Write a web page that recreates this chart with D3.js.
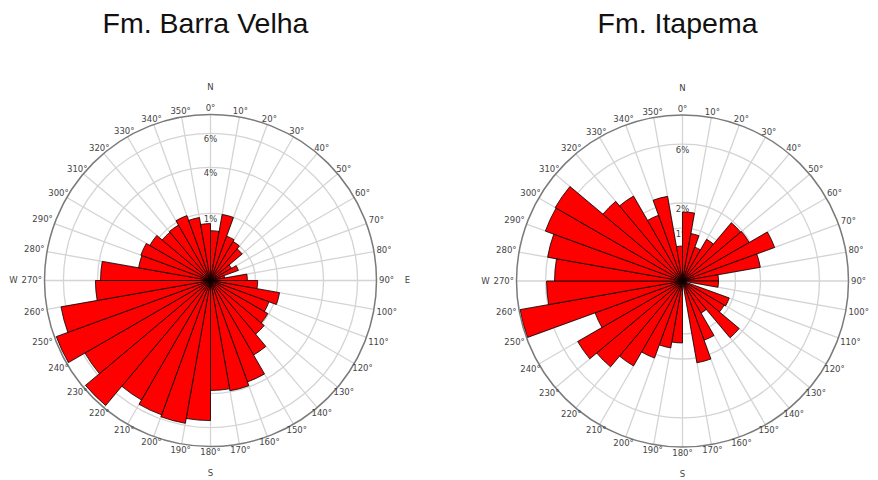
<!DOCTYPE html>
<html>
<head>
<meta charset="utf-8">
<script src="https://cdn.jsdelivr.net/npm/d3@7"></script>
<style>
  body { margin: 0; background: #fff; }
  svg { display: block; }
</style>
</head>
<body>
<svg id="chart" width="878" height="480"></svg>
<script>
// 10° direction classes, clockwise from north
const binStarts = d3.range(0, 360, 10);

// Percentage of measurements in each class
const barraVelha = [
  0.61, 1.00, 0.55, 0.50, 0.46, 0.27, 0.33, 0.16, 0.41, 0.55,
  1.20, 0.89, 0.98, 1.20, 2.24, 3.67, 3.93, 3.80,
  5.59, 5.88, 5.76, 5.47, 7.02, 5.88, 7.08, 6.30, 4.12, 3.80,
  1.39, 1.46, 1.20, 0.91, 0.93, 1.13, 0.93, 0.77
];
const itapema = [
  1.64, 0.91, 0.68, 0.91, 1.92, 1.96, 3.36, 2.07, 0.68, 0.68,
  0.06, 0.94, 0.91, 1.84, 0.70, 1.40, 2.34, 0.04,
  1.36, 1.60, 2.27, 3.36, 4.31, 4.92, 3.02, 7.93, 5.93, 5.39,
  6.00, 6.62, 6.69, 3.76, 3.36, 1.68, 2.54, 0.66
];

// Ring values and the ones that carry a label
const barraVelhaRings = [0.5, 1, 4, 6];
const barraVelhaRingLabels = [1, 4, 6];
const itapemaRings = [1, 2, 6];
const itapemaRingLabels = [1, 2, 6];

const titles = ["Fm. Barra Velha", "Fm. Itapema"];
// compass letters; the east letter of the second rose falls past the page edge
const barraVelhaCardinals = [["N", 0], ["E", 90], ["S", 180], ["W", 270]];
const itapemaCardinals = [["N", 0], ["S", 180], ["W", 270]];
const angleTicks = binStarts.map(d => d + "°");

const svg = d3.select("#chart");
const R = 166;
const rad = Math.PI / 180;
const labelFont = "DejaVu Sans, sans-serif";

function drawRose(cx, cy, title, values, rScale, rings, ringLabels, cardinals) {
  const g = svg.append("g").attr("transform", `translate(${cx},${cy})`);

  svg.append("text")
    .attr("x", cx - 5).attr("y", 33)
    .attr("text-anchor", "middle")
    .attr("font-family", "Liberation Sans, Arial, sans-serif")
    .attr("font-size", 28.5)
    .attr("fill", "#111")
    .text(title);

  // rings
  g.selectAll("circle.ring").data(rings).join("circle")
    .attr("class", "ring")
    .attr("r", d => rScale(d))
    .attr("fill", "none")
    .attr("stroke", "#d4d4d4")
    .attr("stroke-width", 1.3);

  // spokes
  g.selectAll("line.spoke").data(binStarts).join("line")
    .attr("class", "spoke")
    .attr("x1", 0).attr("y1", 0)
    .attr("x2", d => R * Math.sin(d * rad))
    .attr("y2", d => -R * Math.cos(d * rad))
    .attr("stroke", "#d4d4d4")
    .attr("stroke-width", 1.3);

  // ring labels along the north axis
  g.selectAll("text.rlab").data(ringLabels).join("text")
    .attr("class", "rlab")
    .attr("x", 0)
    .attr("y", d => -rScale(d) + 6)
    .attr("dy", "0.35em")
    .attr("text-anchor", "middle")
    .attr("font-family", labelFont)
    .attr("font-size", 8.5)
    .attr("fill", "#444")
    .text(d => d + "%");

  // bars
  const arc = d3.arc()
    .innerRadius(0)
    .outerRadius(d => rScale(d.v))
    .startAngle(d => d.a * rad)
    .endAngle(d => (d.a + 10) * rad);

  g.selectAll("path.bar")
    .data(binStarts.map((a, i) => ({ a, v: values[i] })))
    .join("path")
    .attr("class", "bar")
    .attr("d", arc)
    .attr("fill", "#ff0000")
    .attr("stroke", "#000")
    .attr("stroke-width", 0.8)
    .attr("stroke-linejoin", "miter");

  // frame
  g.append("circle")
    .attr("r", R)
    .attr("fill", "none")
    .attr("stroke", "#7a7a7a")
    .attr("stroke-width", 1.5);

  // angular tick labels, near edge resting on the frame
  const pad = 2.5, h = 7;
  angleTicks.forEach((t, i) => {
    const a = binStarts[i] * rad;
    const txt = g.append("text")
      .attr("text-anchor", "middle")
      .attr("dy", "0.35em")
      .attr("font-family", labelFont)
      .attr("font-size", 8.5)
      .attr("fill", "#444")
      .text(t);
    const w = txt.node().getComputedTextLength();
    const s = Math.abs(Math.sin(a)), c = Math.abs(Math.cos(a));
    const ext = Math.min(s > 1e-6 ? (w / 2) / s : Infinity, c > 1e-6 ? (h / 2) / c : Infinity);
    const rr = R + pad + ext;
    txt.attr("x", rr * Math.sin(a)).attr("y", -rr * Math.cos(a));
  });

  // cardinal letters
  g.selectAll("text.card").data(cardinals).join("text")
    .attr("class", "card")
    .attr("x", d => (R + 31) * Math.sin(d[1] * rad))
    .attr("y", d => -(R + 27) * Math.cos(d[1] * rad))
    .attr("dy", "0.35em")
    .attr("text-anchor", "middle")
    .attr("font-family", labelFont)
    .attr("font-size", 8.5)
    .attr("fill", "#444")
    .text(d => d[0]);
}

// radial scales calibrated on the ring values
const rBarra = d3.scaleLinear()
  .domain([0, 0.5, 1, 4, 6, 7.2])
  .range([0, 0.271, 0.404, 0.681, 0.886, 1].map(f => f * R));
const rItapema = d3.scaleLinear()
  .domain([0, 1, 2, 6, 8])
  .range([0, 0.319, 0.47, 0.825, 1].map(f => f * R));

drawRose(210.5, 280.5, titles[0], barraVelha, rBarra, barraVelhaRings, barraVelhaRingLabels, barraVelhaCardinals);
drawRose(682.5, 281, titles[1], itapema, rItapema, itapemaRings, itapemaRingLabels, itapemaCardinals);
</script>
</body>
</html>
